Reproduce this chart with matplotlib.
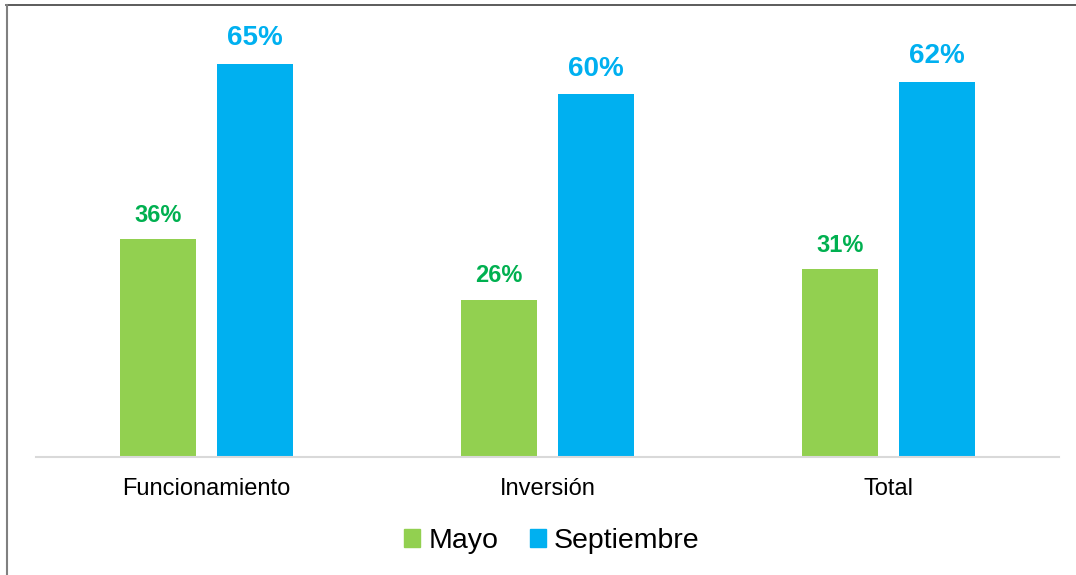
import matplotlib.pyplot as plt
import numpy as np
from matplotlib.lines import Line2D
from matplotlib.patches import Patch

plt.rcParams['font.family'] = ['Liberation Sans', 'DejaVu Sans']

categories = ['Funcionamiento', 'Inversión', 'Total']
mayo = [36, 26, 31]
septiembre = [65, 60, 62]

W, H = 1076, 575
fig = plt.figure(figsize=(W / 100, H / 100), dpi=100)

# axes placed in pixel terms: baseline at y=457, 6.05 px per percent
ax = fig.add_axes([36 / W, (H - 457) / H, 1023 / W, 70 * 6.05 / H])

x = np.arange(len(categories))
bw = 0.223
off = 0.142
b1 = ax.bar(x - off, mayo, bw, color='#92D050', label='Mayo')
b2 = ax.bar(x + off, septiembre, bw, color='#00B0F0', label='Septiembre')

ax.bar_label(b1, labels=['%d%%' % v for v in mayo], padding=9,
             color='#00B050', fontsize=17, fontweight='bold')
ax.bar_label(b2, labels=['%d%%' % v for v in septiembre], padding=9,
             color='#00B0F0', fontsize=20, fontweight='bold')

ax.set_xlim(-0.5, 2.5)
ax.set_ylim(0, 70)
ax.set_yticks([])
ax.set_xticks(x)
ax.set_xticklabels(categories, fontsize=17)
ax.tick_params(axis='x', length=0, pad=15)
for s in ['top', 'right', 'left']:
    ax.spines[s].set_visible(False)
ax.spines['bottom'].set_color('#D9D9D9')
ax.spines['bottom'].set_linewidth(1.5)

handles = [Patch(color='#92D050'), Patch(color='#00B0F0')]
fig.legend(handles, ['Mayo', 'Septiembre'], loc='center',
           bbox_to_anchor=(552 / W, 1 - 541 / H), ncol=2, frameon=False,
           fontsize=20.5, handlelength=0.55, handleheight=0.55,
           handletextpad=0.3, columnspacing=1.1)

# frame lines of the original screenshot (top and left only)
fig.add_artist(Line2D([6 / W, 1], [1 - 4.5 / H] * 2, color='#404040', lw=1.2,
                      transform=fig.transFigure))
fig.add_artist(Line2D([6.5 / W] * 2, [0, 1 - 4.5 / H], color='#808080', lw=1.5,
                      transform=fig.transFigure))

fig.savefig('out.png', dpi=100)
